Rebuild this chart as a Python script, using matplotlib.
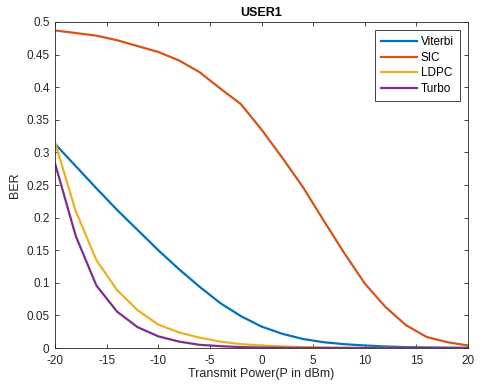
import matplotlib.pyplot as plt

plt.rcParams['font.family'] = ['Liberation Sans', 'DejaVu Sans']
plt.rcParams['axes.unicode_minus'] = False

power = [-20, -18, -16, -14, -12, -10, -8, -6, -4, -2, 0, 2, 4, 6, 8, 10, 12, 14, 16, 18, 20]
viterbi = [0.313, 0.279, 0.245, 0.212, 0.181, 0.150, 0.121, 0.094, 0.069, 0.049, 0.033,
           0.022, 0.014, 0.009, 0.006, 0.004, 0.0025, 0.0015, 0.001, 0.0007, 0.0005]
sic = [0.487, 0.483, 0.479, 0.472, 0.463, 0.454, 0.441, 0.423, 0.398, 0.374, 0.335,
       0.292, 0.247, 0.196, 0.146, 0.099, 0.063, 0.035, 0.017, 0.009, 0.004]
ldpc = [0.315, 0.21, 0.135, 0.089, 0.058, 0.036, 0.024, 0.016, 0.010, 0.006, 0.004,
        0.0025, 0.0015, 0.001, 0.0006, 0.0004, 0.0003, 0.0002, 0.0001, 0.0001, 0.0001]
turbo = [0.283, 0.172, 0.096, 0.056, 0.032, 0.018, 0.010, 0.005, 0.003, 0.0015, 0.0008,
         0.0005, 0.0003, 0.0002, 0.0001, 0.0001, 0.0, 0.0, 0.0, 0.0, 0.0]

series = [('Viterbi', viterbi, '#0072BD'), ('SIC', sic, '#D95319'),
          ('LDPC', ldpc, '#EDB120'), ('Turbo', turbo, '#7E2F8E')]

fig = plt.figure(figsize=(4.83, 3.92), dpi=100)
ax = fig.add_axes([0.114, 0.112, 0.855, 0.832])

for name, vals, col in series:
    ax.plot(power, vals, color=col, lw=1.6, label=name)

ax.set_xlim(-20, 20)
ax.set_ylim(0, 0.5)
ax.set_xticks(range(-20, 21, 5))
ax.set_yticks([0, 0.05, 0.1, 0.15, 0.2, 0.25, 0.3, 0.35, 0.4, 0.45, 0.5])
ax.set_yticklabels(['0', '0.05', '0.1', '0.15', '0.2', '0.25', '0.3', '0.35', '0.4', '0.45', '0.5'])
ax.tick_params(direction='in', top=True, right=True, labelsize=8.5, colors='#262626',
               length=3, width=0.6)
ax.tick_params(axis='x', pad=5)
ax.tick_params(axis='y', pad=4)
for s in ax.spines.values():
    s.set_color('#262626')
    s.set_linewidth(0.6)

ax.set_title('USER1', fontsize=9, fontweight='bold', pad=4)
ax.set_xlabel('Transmit Power(P in dBm)', fontsize=9, color='#262626', labelpad=1)
ax.set_ylabel('BER', fontsize=9, color='#262626', labelpad=4)

leg = ax.legend(loc='upper right', fontsize=8.5, fancybox=False, framealpha=1,
                edgecolor='#262626', handlelength=3.1, borderaxespad=0.7,
                labelspacing=0.3, handletextpad=0.3, borderpad=0.5)
leg.get_frame().set_linewidth(0.6)

plt.savefig('out.png', dpi=100)
